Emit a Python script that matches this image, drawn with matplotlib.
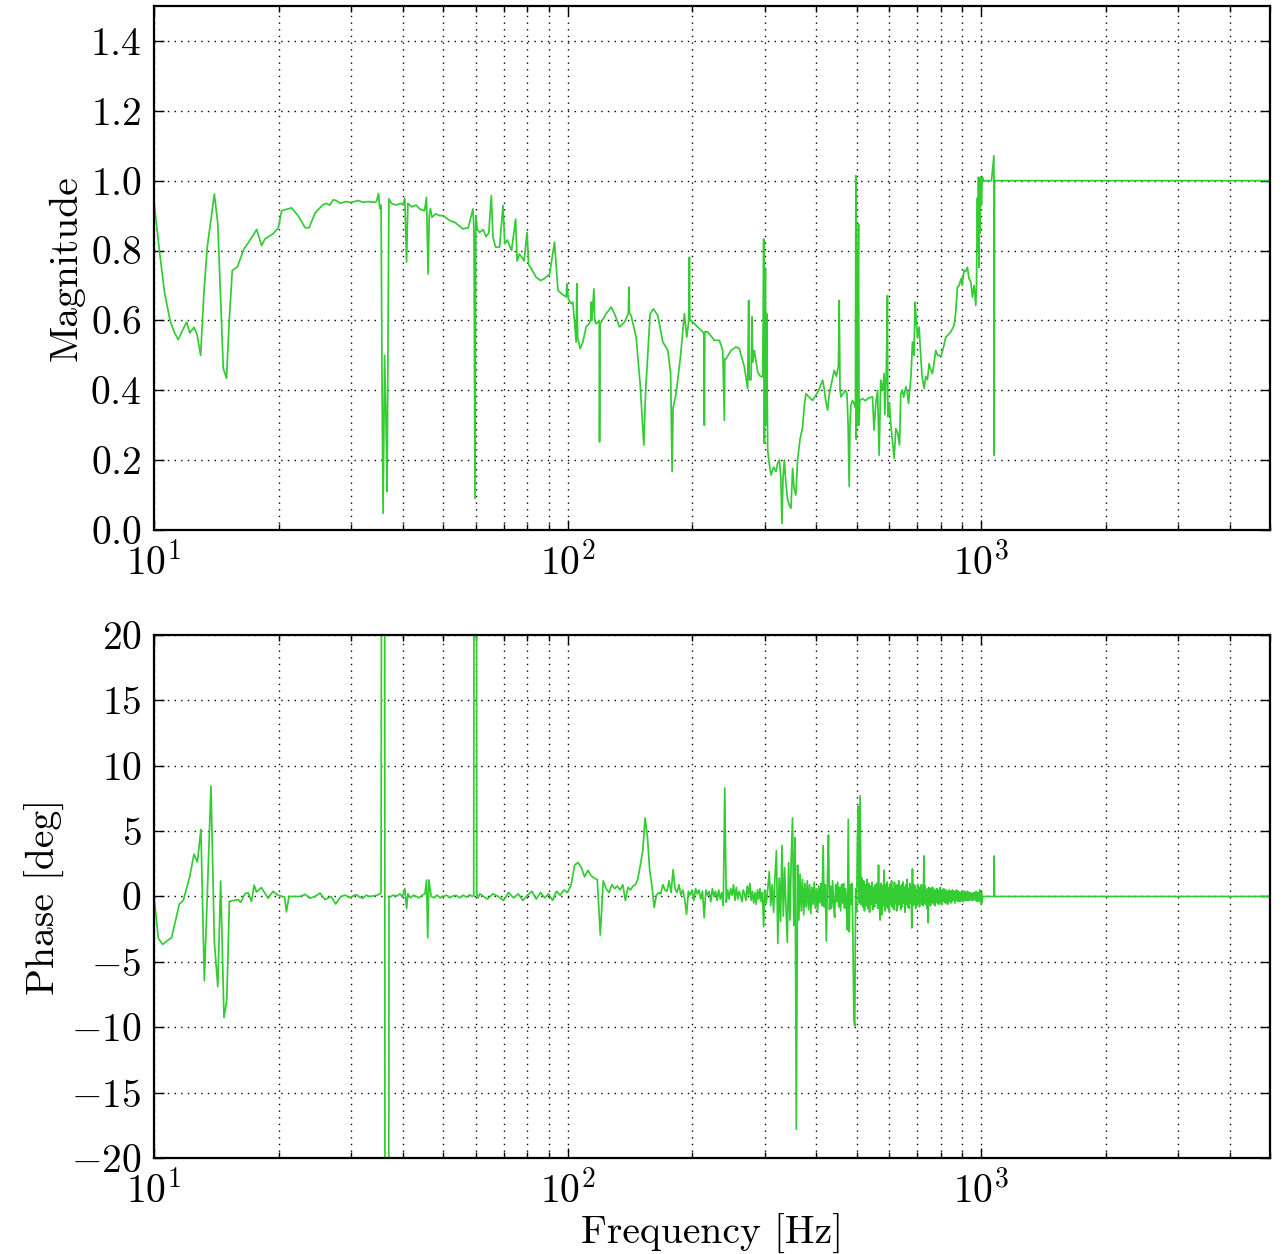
"""
Transfer function magnitude / phase plot (log frequency axis)
"""
import numpy as np
import matplotlib
matplotlib.use("Agg")
import matplotlib.pyplot as plt

plt.rcParams['font.family'] = 'serif'
plt.rcParams['font.serif'] = ['cmr10']
plt.rcParams['mathtext.fontset'] = 'cm'
plt.rcParams['axes.formatter.use_mathtext'] = True
plt.rcParams['axes.unicode_minus'] = True

# ---- magnitude ----
mag_freq = [
    10.0, 10.3, 10.6, 10.93, 11.2, 11.44, 11.7, 11.99, 12.2, 12.49, 12.7, 12.96, 13.2, 13.45,
    13.99, 14.26, 14.5, 14.7, 14.97, 15.2, 15.46, 15.9, 16.49, 17.0, 17.71, 18.2, 18.54, 19.4,
    19.98, 20.35, 21.5, 22.3, 23.2, 23.7, 24.5, 25.6, 26.1, 26.6, 27.1, 27.6, 28.2, 29.0, 30.0,
    31.2, 32.0, 33.0, 34.0, 34.5, 34.9, 35.15, 35.4, 35.6, 35.8, 36.1, 36.4, 36.6, 36.98, 37.5,
    38.5, 39.5, 40.0, 40.4, 40.8, 41.1, 42.0, 43.0, 44.0, 45.1, 45.6, 46.0, 46.3, 46.6, 47.0,
    48.0, 49.0, 50.0, 51.9, 53.5, 55.8, 57.5, 59.06, 59.4, 59.73, 60.0, 60.5, 61.3, 62.5, 63.5,
    64.5, 65.4, 66.0, 67.0, 68.5, 69.8, 70.5, 71.5, 73.2, 74.9, 75.5, 76.5, 77.5, 78.5, 79.8,
    80.5, 82.0, 83.9, 86.0, 88.0, 90.5, 93.0, 94.8, 97.0, 99.3, 99.6, 100.5, 102.1, 103.0,
    104.9, 105.3, 105.8, 107.3, 108.9, 110.9, 112.5, 113.8, 114.1, 114.5, 115.8, 116.3, 117.3,
    119.3, 119.5, 119.8, 120.6, 124.0, 127.5, 129.9, 133.6, 137.3, 140.3, 140.7, 141.2, 142.5,
    146.5, 149.8, 152.9, 154.5, 156.3, 158.4, 161.3, 165.3, 170.0, 174.8, 177.5, 178.0, 179.0,
    180.0, 183.0, 187.5, 191.7, 194.2, 196.5, 197.1, 197.6, 198.9, 206.4, 212.3, 213.8, 214.2,
    214.7, 218.3, 226.5, 232.9, 237.3, 239.5, 240.0, 241.8, 248.5, 255.5, 260.3, 267.6, 272.6,
    274.2, 275.0, 277.8, 279.3, 280.5, 283.0, 288.3, 292.5, 296.5, 298.1, 299.2, 300.9, 302.0,
    303.0, 304.8, 307.5, 310.5, 315.0, 319.2, 322.0, 325.2, 328.0, 330.0, 332.0, 334.4, 337.0,
    340.6, 344.0, 347.0, 350.2, 353.0, 356.6, 360.0, 365.0, 370.3, 374.0, 377.2, 384.0, 391.4,
    398.7, 405.0, 413.9, 418.0, 421.0, 425.6, 429.6, 435.0, 441.6, 447.0, 452.0, 454.0, 456.0,
    458.5, 464.0, 469.5, 474.0, 477.0, 480.0, 482.0, 484.5, 489.0, 493.6, 497.0, 498.0, 499.0,
    500.5, 502.0, 504.0, 505.5, 507.0, 509.0, 517.0, 525.0, 535.0, 546.5, 551.0, 556.6, 562.0,
    567.0, 572.0, 578.0, 583.0, 585.0, 588.0, 590.0, 593.8, 595.0, 596.0, 600.6, 605.0, 610.0,
    616.6, 622.0, 628.0, 635.0, 639.7, 645.0, 650.0, 657.9, 662.0, 667.6, 672.0, 677.0, 682.6,
    688.0, 692.8, 697.0, 702.0, 708.3, 715.0, 720.0, 728.4, 735.0, 742.0, 748.9, 755.0, 762.9,
    770.0, 777.3, 785.0, 792.0, 799.3, 810.0, 821.8, 835.0, 848.0, 860.7, 868.0, 876.7, 885.0,
    895.0, 900.0, 909.7, 918.0, 926.8, 935.0, 945.0, 952.8, 962.0, 971.0, 975.0, 980.0, 983.0,
    986.0, 989.0, 992.0, 995.0, 998.0, 1002.0, 1007.0, 1015.0, 1026.0, 1060.0, 1074.0, 1076.0,
    1078.0, 5000.0,
]
mag_val = [
    0.94, 0.80, 0.68, 0.60, 0.565, 0.545, 0.57, 0.595, 0.564, 0.58, 0.56, 0.50, 0.68, 0.81,
    0.962, 0.877, 0.65, 0.463, 0.434, 0.60, 0.743, 0.753, 0.804, 0.827, 0.86, 0.814, 0.833, 0.848,
    0.865, 0.914, 0.922, 0.90, 0.865, 0.865, 0.907, 0.931, 0.935, 0.93, 0.945, 0.943, 0.935, 0.94, 0.938,
    0.943, 0.938, 0.94, 0.938, 0.94, 0.963, 0.92, 0.93, 0.40, 0.048, 0.50, 0.30, 0.11, 0.948, 0.935,
    0.93, 0.935, 0.93, 0.95, 0.767, 0.935, 0.925, 0.93, 0.918, 0.914, 0.952, 0.733, 0.90, 0.92, 0.895,
    0.905, 0.90, 0.90, 0.886, 0.88, 0.862, 0.865, 0.919, 0.85, 0.09, 0.90, 0.86, 0.852, 0.86, 0.84,
    0.85, 0.957, 0.838, 0.81, 0.81, 0.929, 0.819, 0.83, 0.80, 0.89, 0.77, 0.79, 0.781, 0.77, 0.852,
    0.76, 0.745, 0.724, 0.714, 0.72, 0.733, 0.824, 0.686, 0.675, 0.667, 0.705, 0.66, 0.648, 0.652,
    0.538, 0.705, 0.55, 0.519, 0.538, 0.581, 0.59, 0.60, 0.652, 0.60, 0.69, 0.60, 0.59,
    0.60, 0.252, 0.59, 0.595, 0.619, 0.638, 0.619, 0.581, 0.595, 0.62, 0.695, 0.62, 0.614,
    0.552, 0.419, 0.243, 0.40, 0.50, 0.619, 0.633, 0.614, 0.538, 0.514, 0.45, 0.362, 0.167,
    0.35, 0.39, 0.495, 0.619, 0.552, 0.60, 0.781, 0.60, 0.60, 0.581, 0.567, 0.56, 0.30,
    0.567, 0.567, 0.543, 0.543, 0.514, 0.314, 0.49, 0.49, 0.514, 0.524, 0.519, 0.467, 0.405,
    0.657, 0.43, 0.43, 0.61, 0.48, 0.514, 0.452, 0.44, 0.438, 0.833, 0.248, 0.75, 0.30,
    0.62, 0.229, 0.19, 0.157, 0.18, 0.167, 0.19, 0.20, 0.15, 0.019, 0.15, 0.20, 0.14,
    0.086, 0.07, 0.062, 0.176, 0.12, 0.10, 0.20, 0.26, 0.295, 0.36, 0.39, 0.38, 0.371,
    0.386, 0.40, 0.429, 0.40, 0.37, 0.343, 0.39, 0.42, 0.457, 0.44, 0.47, 0.657, 0.40,
    0.381, 0.39, 0.40, 0.39, 0.30, 0.124, 0.30, 0.357, 0.371, 0.36, 0.35, 1.014, 0.26,
    0.80, 0.30, 0.70, 0.876, 0.30, 0.371, 0.376, 0.37, 0.378, 0.381, 0.286, 0.362, 0.40,
    0.214, 0.429, 0.40, 0.448, 0.33, 0.40, 0.45, 0.671, 0.35, 0.324, 0.362, 0.30, 0.26,
    0.205, 0.29, 0.28, 0.243, 0.39, 0.40, 0.38, 0.41, 0.40, 0.362, 0.40, 0.44, 0.538,
    0.50, 0.652, 0.60, 0.55, 0.581, 0.495, 0.44, 0.405, 0.44, 0.43, 0.476, 0.46, 0.448,
    0.48, 0.514, 0.50, 0.50, 0.495, 0.52, 0.552, 0.56, 0.57, 0.586, 0.62, 0.695, 0.70,
    0.72, 0.70, 0.743, 0.74, 0.752, 0.72, 0.71, 0.667, 0.70, 0.643, 0.70, 0.95, 0.80,
    1.01, 0.752, 1.00, 0.85, 1.01, 0.93, 1.01, 0.998, 1.0, 1.0, 1.071, 0.214,
    1.0, 1.0,
]

# ---- phase ----
# low frequency part, explicit points
phase_low_freq = [
    10.0, 10.24, 10.49, 11.03, 11.51, 11.77, 12.2, 12.49, 12.73, 12.98, 13.23, 13.73, 13.99,
    14.26, 14.49, 14.76, 14.99, 15.21, 15.99, 16.2, 16.59, 16.89, 17.2, 17.46, 17.69, 18.18,
    18.87, 19.4, 19.96, 20.7, 20.9, 21.2, 22.5, 23.2, 23.8, 24.5, 25.2, 25.9, 26.8, 27.5, 28.3,
    29.0, 29.7, 30.3, 30.9, 31.4, 32.0, 32.6, 33.2, 34.0, 34.6, 35.2, 35.4, 35.6, 36.1, 36.2,
    36.85, 37.0, 37.2, 37.8, 38.2, 38.8, 39.3, 39.9, 40.4, 40.8, 41.1, 41.7, 42.4, 43.1, 43.8,
    44.5, 45.2, 45.6, 45.9, 46.2, 46.8, 47.5, 48.4, 49.2, 50.0, 51.0, 51.9, 52.9, 53.8, 54.8,
    55.9, 57.0, 58.0, 58.8, 59.3, 59.5, 60.1, 60.3, 60.8, 61.3,
]
phase_low = [
    0.0, -3.2, -3.66, -3.13, -0.58, -0.3, 1.53, 3.24, 2.63, 5.13, -6.45, 8.45, -3.47,
    -6.9, 1.18, -9.26, -7.95, -0.37, -0.24, -0.45, 0.21, 0.29, -0.39, 0.87, 0.34, 0.68,
    -0.13, 0.39, 0.08, -0.05, -1.18, 0.0, 0.0, 0.16, -0.13, 0.0, 0.26, -0.24, 0.0, -0.58, 0.0,
    0.1, -0.1, 0.05, 0.13, -0.05, -0.13, 0.1, 0.0, 0.05, 0.1, 0.2, 0.3, 60.0, 60.0, -60.0,
    -60.0, 0.0, -0.05, 0.1, 0.08, 0.05, 0.2, 0.0, 0.6, -0.92, 0.2, -0.1, 0.1, 0.0, -0.1,
    0.1, 0.2, 1.26, -3.16, 1.26, 0.0, -0.1, 0.1, -0.1, 0.0, 0.1, -0.1, 0.05, 0.08, -0.1,
    0.1, -0.05, 0.13, 0.0, 0.1, 60.0, 60.0, 0.2, -0.1, 0.2,
]

# 62 .. 300 Hz, 2 Hz bins
mid_start, mid_step = 62.0, 2.0
phase_mid = [
    0.1, -0.2, 0.2, 0.0, -0.3, 0.3, -0.1, 0.2, -0.3, 0.1,
    0.4, -0.2, 0.3, -0.1, 0.2, -0.3, 0.4, 0.1, 0.5, 0.3,
    0.9, 2.4, 2.6, 2.2, 1.5, 2.0, 1.6, 1.4, 1.3, -2.95,
    1.2, 0.6, 0.3, 0.9, 0.6, 0.8, 0.5, 0.9, -0.3, 0.7,
    0.5, 0.8, 0.9, 1.4, 2.4, 3.5, 6.0, 4.6, 2.0, 0.8,
    -0.84, 0.1, 0.3, 0.2, 0.9, 0.5, 0.4, 1.2, 0.3, 2.05,
    0.6, 0.3, 0.9, 0.1, 0.5, -0.2, -1.37, 0.4, 0.1, 0.5,
    -0.3, 0.6, 0.2, 0.5, -0.2, 0.4, -1.63, 0.5, 0.1, 0.4,
    -0.4, 0.6, 0.0, 0.4, -0.3, 0.5, -0.2, 0.3, -0.7, 8.3,
    -0.45, 0.5, -0.2, 0.6, 0.1, 0.9, -0.3, 0.7, -0.2, 0.4,
    0.1, -0.4, 0.5, 0.2, -0.3, 0.8, 0.1, 1.0, -0.3, 0.4,
    -0.5, 0.3, -0.6, 0.5, -0.2, 0.6, -0.4, 0.3, -2.3, 0.5,
]

# 302.5 .. 1010 Hz, 2.5 Hz bins
high_start, high_step = 302.5, 2.5
phase_high = [
    -0.5, 0.6, 1.9, -0.7, 0.9, -1.2, 1.6, 3.5, -3.6, 1.4, -1.9, 3.9, -1.5, 2.2, -0.9, -3.5,
    2.6, -1.8, 2.9, 6.0, -2.2, 4.5, -17.8, 2.4, -1.8, 1.7, -1.1, 1.3, -1.4, 1.0, -0.8, 1.2,
    -1.0, 0.9, -1.3, 0.7, -0.6, 1.1, -0.9, 0.6, -1.2, 0.8, -0.5, 1.0, -0.7, 3.9, -0.8, 0.9,
    -3.4, 1.1, 4.7, -1.0, 0.8, -0.9, 1.2, -0.6, -1.6, 0.9, -0.4, 1.1, -0.8, 0.7, -1.1, 0.9,
    -0.5, 1.0, -0.9, 0.6, -0.7, -2.55, 5.9, -2.7, 0.9, -0.6, 1.0, -3.1, -9.4, -9.9, 0.6, -1.2,
    4.5, 6.9, -0.5, 7.7, -0.6, 1.4, -0.8, 1.2, -1.1, 0.9, -0.7, 1.3, -0.9, 1.0, -1.2, 0.8,
    -0.6, 1.1, -1.0, 0.7, -0.8, 0.9, -0.5, 1.0, -0.9, 2.4, -0.6, -1.8, 1.0, -1.4, 0.8, -0.7,
    2.0, -1.1, 0.9, -0.8, 1.1, -0.9, 0.7, -1.2, 0.9, -0.6, 1.2, -0.8, 0.6, -1.0, 1.1, -0.5,
    0.8, -1.1, 0.9, -0.7, 1.2, -0.6, 0.7, -1.0, 0.9, -0.8, 1.1, -0.5, 0.7, -1.2, 0.9, -0.6,
    1.3, -0.8, 0.6, -0.9, 1.0, -0.5, 0.8, -2.4, 2.1, -0.7, 0.9, -0.6, 0.8, -0.9, 0.5, -0.7,
    0.9, -0.5, 0.6, -0.8, 0.7, -0.4, 0.9, -0.6, 0.5, -0.7, 3.1, -0.5, 0.8, -0.6, 0.4, -0.9,
    0.6, -2.0, 0.7, -0.4, 0.6, -0.7, 0.5, -0.5, 0.7, -0.4, 0.6, -0.6, 0.4, -0.7, 0.5, -0.3,
    0.6, -0.5, 0.4, -0.6, 0.5, -0.4, 0.7, -0.5, 0.4, -0.6, 0.5, -0.3, 0.6, -0.4, 0.3, -0.5,
    0.5, -0.3, 0.4, -0.6, 0.3, -0.4, 0.5, -0.3, 0.4, -0.5, 0.3, -0.4, 0.5, -0.3, 0.4, -0.2,
    0.3, -0.5, 0.4, -0.3, 0.5, -0.2, 0.3, -0.4, 0.4, -0.3, 0.2, -0.4, 0.3, -0.2, 0.4, -0.3,
    0.2, -0.4, 0.3, -0.2, 0.4, -0.3, 0.2, -0.3, 0.3, -0.2, 0.4, -0.3, 0.2, -0.3, 0.3, -0.2,
    0.3, -0.2, 0.2, -0.3, 0.2, -0.3, 0.3, -0.2, 0.3, -0.2, 0.2, -0.3, 0.4, -0.2, 0.3, -0.4,
    0.2, -0.3, 0.3, -0.2, 0.5, -0.4, 0.2, -0.6, 0.3, -0.5, -0.2, 0.0,
]

# flat tail above ~1 kHz
phase_tail_freq = [1012.0, 1074.0, 1076.0, 1078.0, 5000.0]
phase_tail = [0.0, 0.0, 3.1, 0.0, 0.0]

line_color = '#33cc33'
fs = 28.5


def style_axis(ax):
    ax.set_xscale('log')
    ax.set_xlim(10, 5000)
    ax.tick_params(which='both', direction='in', top=True, right=True, labelsize=fs)
    ax.tick_params(which='major', length=7, width=1.0, pad=9)
    ax.tick_params(which='minor', length=4, width=1.0)
    ax.grid(True, which='both', axis='x', color='k', linestyle=(0, (1, 3.8)), linewidth=1.0)
    ax.grid(True, which='major', axis='y', color='k', linestyle=(0, (1, 3.8)), linewidth=1.0)
    for s in ax.spines.values():
        s.set_linewidth(1.6)


fig = plt.figure(figsize=(12.86, 12.54), dpi=100)
ax1 = fig.add_axes([0.1198, 0.5774, 0.8678, 0.4178])
ax2 = fig.add_axes([0.1198, 0.0766, 0.8678, 0.4170])

ax1.plot(mag_freq, mag_val, color=line_color, linewidth=1.25)
style_axis(ax1)
ax1.set_ylim(0, 1.5)
ax1.set_yticks(np.arange(0, 1.41, 0.2))
ax1.yaxis.set_major_formatter(matplotlib.ticker.FormatStrFormatter(r'$%.1f$'))
ax1.set_ylabel('Magnitude', fontsize=fs)

mid_freq = mid_start + mid_step * np.arange(len(phase_mid))
high_freq = high_start + high_step * np.arange(len(phase_high))
phase_freq = np.concatenate([phase_low_freq, mid_freq, high_freq, phase_tail_freq])
phase_val = np.concatenate([phase_low, phase_mid, phase_high, phase_tail])

ax2.plot(phase_freq, phase_val, color=line_color, linewidth=1.25)
style_axis(ax2)
ax2.set_ylim(-20, 20)
ax2.set_yticks(np.arange(-20, 21, 5))
ax2.set_ylabel('Phase [deg]', fontsize=fs)
ax2.set_xlabel('Frequency [Hz]', fontsize=fs, labelpad=2)

fig.savefig('out.png', dpi=100)
